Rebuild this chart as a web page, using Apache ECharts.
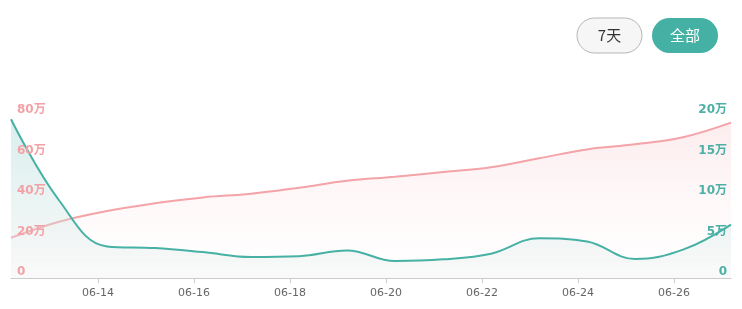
<!DOCTYPE html>
<html><head><meta charset="utf-8">
<script src="https://cdn.jsdelivr.net/npm/echarts@6/dist/echarts.min.js"></script>
<style>html,body{margin:0;padding:0;background:#fff}#c{width:742px;height:309px}</style>
</head><body><div id="c"></div>
<script>
// dates of the daily points (month-day), recorded at this time of day
const dates = ['06-12','06-13','06-14','06-15','06-16','06-17','06-18','06-19','06-20','06-21','06-22','06-23','06-24','06-25','06-26','06-27'];
const recordTime = '04:30';
// pink series (left axis), in units
const totalValues = [199000,278000,331000,369000,398000,416000,446000,480000,500000,523000,547000,591000,635000,660000,695000,767000];
// green series (right axis)
const dailyValues = [196000,96000,39000,37000,32000,26000,27000,34000,21000,23000,30000,49000,45000,23500,35000,66000];
const tickLabels = ['06-14','06-16','06-18','06-20','06-22','06-24','06-26'];
const leftTicks = [0,200000,400000,600000,800000];
const rightTicks = [0,50000,100000,150000,200000];

// convert 'MM-DD' + 'HH:MM' to fractional day number within June
function dayNum(md, hm){const d=Number(md.split('-')[1]);const [h,mi]=(hm||'00:00').split(':').map(Number);return d+(h+mi/60)/24;}
const xs = dates.map(d=>dayNum(d,recordTime));
const tickVals = tickLabels.map(d=>dayNum(d));
const fmtWan = v => v===0?'0':(v/10000)+'万';
const pad=n=>(n<10?'0':'')+n;
const yLabelFont = {fontFamily:'"DejaVu Sans", "Noto Sans CJK SC", sans-serif',fontWeight:'bold',fontSize:12,lineHeight:12,verticalAlign:'bottom',inside:true};

const chart = echarts.init(document.getElementById('c'));
chart.setOption({
  animation:false,
  grid:{left:11,right:11,top:116,bottom:31},
  xAxis:{
    type:'value', min:xs[0], max:xs[xs.length-1],
    axisLine:{show:true,lineStyle:{color:'#cccccc'}},
    axisTick:{show:true,customValues:tickVals,length:5,lineStyle:{color:'#cccccc'}},
    axisLabel:{customValues:tickVals,color:'#666',fontSize:11,margin:10,fontFamily:'"DejaVu Sans", sans-serif',
      formatter:v=>'06-'+pad(Math.round(v))},
    splitLine:{show:false}
  },
  yAxis:[{
    type:'value',min:0,max:leftTicks[leftTicks.length-1],interval:leftTicks[1],z:10,
    axisLine:{show:false},axisTick:{show:false},splitLine:{show:false},
    axisLabel:Object.assign({color:'#f2a2a6',formatter:fmtWan,margin:6},yLabelFont)
  },{
    type:'value',min:0,max:rightTicks[rightTicks.length-1],interval:rightTicks[1],z:10,
    axisLine:{show:false},axisTick:{show:false},splitLine:{show:false},
    axisLabel:Object.assign({color:'#4cb0a4',formatter:fmtWan,margin:4},yLabelFont)
  }],
  series:[{
    type:'line',yAxisIndex:0,smooth:0.4,symbol:'none',
    data:xs.map((x,i)=>[x,totalValues[i]]),
    lineStyle:{color:'#f4a3a8',width:2},
    areaStyle:{color:new echarts.graphic.LinearGradient(0,0,0,1,[{offset:0,color:'rgba(250,210,215,0.6)'},{offset:1,color:'rgba(255,255,255,0.3)'}])},
    z:2
  },{
    type:'line',yAxisIndex:1,smooth:0.4,symbol:'none',
    data:xs.map((x,i)=>[x,dailyValues[i]]),
    lineStyle:{color:'#46b1a4',width:2},
    areaStyle:{color:new echarts.graphic.LinearGradient(0,0,0,1,[{offset:0,color:'rgba(150,210,205,0.5)'},{offset:1,color:'rgba(240,240,240,0.5)'}])},
    z:3
  }],
  graphic:[
    {type:'rect',shape:{x:577,y:18,width:65,height:35,r:17.5},style:{fill:'#f6f6f6',stroke:'#b5b5b5',lineWidth:1}},
    {type:'text',style:{text:'7天',x:609.5,y:35.5,align:'center',verticalAlign:'middle',fill:'#333',font:'15px "Noto Sans CJK SC", sans-serif'}},
    {type:'rect',shape:{x:652,y:18,width:66,height:35,r:17.5},style:{fill:'#45b1a5'}},
    {type:'text',style:{text:'全部',x:685,y:35.5,align:'center',verticalAlign:'middle',fill:'#fff',font:'15px "Noto Sans CJK SC", sans-serif'}}
  ]
});
</script></body></html>
